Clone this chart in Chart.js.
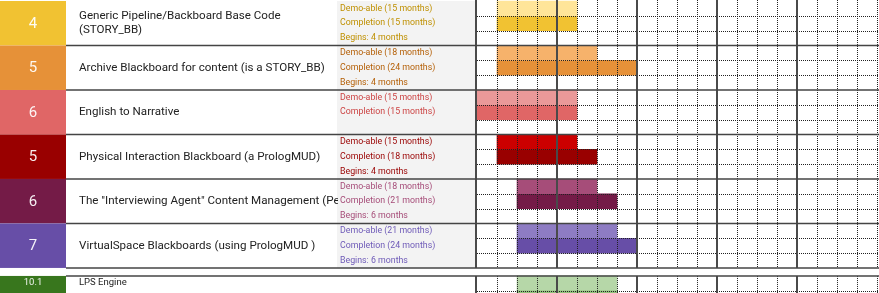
<!DOCTYPE html>
<html lang="en">
  <head>
    <meta charset="UTF-8" />
    <title>Blackboard Roadmap</title>
    <script src="https://cdn.jsdelivr.net/npm/chart.js"></script>
    <style>
      html,
      body {
        margin: 0;
        padding: 0;
        background: #fff;
      }
      .chart-container {
        position: relative;
        width: 879px;
        height: 293px;
      }
    </style>
  </head>
  <body>
    <div class="chart-container">
      <canvas id="ganttChart"></canvas>
    </div>

    <script>
      // data read from the sheet
      const groupNumbers = ["4", "5", "6", "5", "6", "7"];
      const groupTitles = [
        ["Generic Pipeline/Backboard Base Code", "(STORY_BB)"],
        ["Archive Blackboard for content (is a STORY_BB)"],
        ["English to Narrative"],
        ["Physical Interaction Blackboard (a PrologMUD)"],
        ['The "Interviewing Agent" Content Management (Pe'],
        ["VirtualSpace Blackboards (using PrologMUD )"],
      ];
      const demoMonths = [15, 18, 15, 15, 18, 21];
      const completionMonths = [15, 24, 15, 18, 21, 24];
      const beginMonths = [4, 4, null, 4, 6, 6];
      const barStartMonths = [3, 3, 0, 3, 6, 6];

      const subtaskIds = ["10.1", "10.2"];
      const subtaskNames = ["LPS Engine", "Sit Calc"];
      const subtaskStartMonths = [6, 6];
      const subtaskEndMonths = [21, 21];

      const columnMonths = [0, 3, 6, 9, 12, 15, 18, 21, 24, 27, 30, 33, 36, 39, 42, 45, 48, 51, 54, 57, 60];
      const yearMonths = [0, 12, 24, 36, 48];

      // colours
      const boxColors = ["#f1c232", "#e69138", "#e06666", "#990000", "#741b47", "#674ea7"];
      const demoColors = ["#ffe599", "#f6b26b", "#ea9999", "#cc0000", "#a64d79", "#8e7cc3"];
      const completionColors = ["#f1c232", "#e69138", "#e06666", "#990000", "#741b47", "#674ea7"];
      const labelColors = ["#bf9000", "#b45f06", "#cc4444", "#990000", "#a64d79", "#6f5bb8"];
      const subtaskBox = "#38761d";
      const subtaskColors = ["#b6d7a8", "#93c47d"];

      // layout of the sheet
      const BOX_W = 66;
      const TITLE_X = 79;
      const LABEL_X = 337;
      const LABEL_TEXT_X = 340;
      const GRID_X = 477;
      const ROWS = 3;
      const GAP_TOP = groupNumbers.length * ROWS;
      const GREEN_TOP = 18.54;

      const demoBars = groupNumbers.map((_, g) => ({
        x: [barStartMonths[g], demoMonths[g]],
        y: g * ROWS + 0.5,
      }));
      const completionBars = groupNumbers.map((_, g) => ({
        x: [barStartMonths[g], completionMonths[g]],
        y: g * ROWS + 1.5,
      }));
      const subtaskBars = subtaskIds.map((_, i) => ({
        x: [subtaskStartMonths[i], subtaskEndMonths[i]],
        y: GREEN_TOP + i + 0.5,
      }));

      const barStyle = {
        grouped: false,
        barPercentage: 1,
        categoryPercentage: 1,
        borderWidth: 0,
        borderSkipped: false,
      };

      const sheetTable = {
        id: "sheetTable",
        beforeDraw(chart) {
          const { ctx } = chart;
          const y = chart.scales.y;
          ctx.save();
          ctx.fillStyle = "#ffffff";
          ctx.fillRect(0, 0, chart.width, chart.height);

          groupNumbers.forEach((num, g) => {
            const top = y.getPixelForValue(g * ROWS);
            const bottom = y.getPixelForValue(g * ROWS + ROWS);
            const mid = (top + bottom) / 2;

            ctx.fillStyle = boxColors[g];
            ctx.fillRect(0, top, BOX_W, bottom - top);
            ctx.fillStyle = "#f3f3f3";
            ctx.fillRect(LABEL_X, top, GRID_X - 2 - LABEL_X, bottom - top);

            ctx.textBaseline = "middle";
            ctx.textAlign = "center";
            ctx.fillStyle = "rgba(255,255,255,0.93)";
            ctx.font = "15px Roboto";
            ctx.fillText(num, BOX_W / 2, mid + 1);

            ctx.save();
            ctx.beginPath();
            ctx.rect(BOX_W, top, LABEL_X + 1 - BOX_W, bottom - top);
            ctx.clip();
            ctx.textAlign = "left";
            ctx.fillStyle = "#222";
            ctx.font = "11.6px Roboto";
            const lines = groupTitles[g];
            lines.forEach((line, k) => {
              ctx.fillText(line, TITLE_X, mid + (k - (lines.length - 1) / 2) * 14);
            });
            ctx.restore();

            const subLabels = [
              `Demo-able (${demoMonths[g]} months)`,
              `Completion (${completionMonths[g]} months)`,
              beginMonths[g] !== null ? `Begins: ${beginMonths[g]} months` : "",
            ];
            ctx.textAlign = "left";
            ctx.fillStyle = labelColors[g];
            ctx.font = "8.8px Roboto";
            subLabels.forEach((txt, k) => {
              ctx.fillText(txt, LABEL_TEXT_X, y.getPixelForValue(g * ROWS + k + 0.5));
            });
          });

          // green sub-task block
          const gTop = y.getPixelForValue(GREEN_TOP);
          ctx.fillStyle = subtaskBox;
          ctx.fillRect(0, gTop, BOX_W, chart.height - gTop);
          subtaskIds.forEach((id, i) => {
            const cy = y.getPixelForValue(GREEN_TOP + i + 0.45);
            ctx.textAlign = "center";
            ctx.fillStyle = "rgba(255,255,255,0.93)";
            ctx.font = "9.5px Roboto";
            ctx.fillText(id, BOX_W / 2, cy);
            ctx.textAlign = "left";
            ctx.fillStyle = "#222";
            ctx.fillText(subtaskNames[i], TITLE_X, cy);
          });
          ctx.restore();
        },
        afterDatasetsDraw(chart) {
          const { ctx, chartArea } = chart;
          const x = chart.scales.x;
          const y = chart.scales.y;
          const gapTop = y.getPixelForValue(GAP_TOP);
          const gapBottom = y.getPixelForValue(GREEN_TOP);
          ctx.save();

          // dotted column lines
          ctx.setLineDash([1, 1]);
          ctx.lineWidth = 1;
          ctx.strokeStyle = "#222";
          columnMonths.forEach((m) => {
            if (yearMonths.includes(m)) return;
            const px = Math.round(x.getPixelForValue(m)) + 0.5;
            ctx.beginPath();
            ctx.moveTo(px, chartArea.top);
            ctx.lineTo(px, gapTop);
            ctx.moveTo(px, gapBottom);
            ctx.lineTo(px, chartArea.bottom);
            ctx.stroke();
          });

          // dotted sub-row lines
          const subRows = [];
          groupNumbers.forEach((_, g) => {
            subRows.push(g * ROWS + 1, g * ROWS + 2);
          });
          subtaskIds.forEach((_, i) => subRows.push(GREEN_TOP + i + 1));
          subRows.forEach((r) => {
            const py = Math.round(y.getPixelForValue(r)) + 0.5;
            ctx.beginPath();
            ctx.moveTo(chartArea.left, py);
            ctx.lineTo(chartArea.right, py);
            ctx.stroke();
          });

          // year lines
          ctx.setLineDash([]);
          ctx.lineWidth = 2;
          ctx.strokeStyle = "#4a4a4a";
          yearMonths.forEach((m) => {
            const px = Math.round(x.getPixelForValue(m)) - (m === 0 ? 1 : 0);
            ctx.beginPath();
            ctx.moveTo(px, chartArea.top);
            ctx.lineTo(px, gapTop);
            ctx.moveTo(px, gapBottom);
            ctx.lineTo(px, chartArea.bottom);
            ctx.stroke();
          });

          // group separators
          ctx.lineWidth = 1.5;
          ctx.strokeStyle = "#444";
          const seps = groupNumbers.map((_, g) => (g + 1) * ROWS);
          seps.push(GREEN_TOP);
          seps.forEach((r) => {
            const py = y.getPixelForValue(r);
            ctx.beginPath();
            ctx.moveTo(BOX_W, py);
            ctx.lineTo(chart.width, py);
            ctx.stroke();
          });
          ctx.restore();
        },
      };

      const ctxGantt = document.getElementById("ganttChart").getContext("2d");
      new Chart(ctxGantt, {
        type: "bar",
        data: {
          datasets: [
            {
              label: "Demo-able",
              data: demoBars,
              backgroundColor: demoColors,
              ...barStyle,
            },
            {
              label: "Completion",
              data: completionBars,
              backgroundColor: completionColors,
              ...barStyle,
            },
            {
              label: "Sub-tasks",
              data: subtaskBars,
              backgroundColor: subtaskColors,
              ...barStyle,
            },
          ],
        },
        options: {
          indexAxis: "y",
          responsive: true,
          maintainAspectRatio: false,
          animation: false,
          events: [],
          layout: { padding: { left: GRID_X, right: 0, top: 0, bottom: 0 } },
          scales: {
            x: { type: "linear", min: 0, max: 60.3, display: false, offset: false },
            y: {
              type: "linear",
              reverse: true,
              offset: false,
              min: -0.067,
              max: 19.69,
              display: false,
              grid: { offset: false },
              ticks: { stepSize: 1, includeBounds: false },
            },
          },
          plugins: {
            legend: { display: false },
            tooltip: { enabled: false },
          },
        },
        plugins: [sheetTable],
      });
    </script>
  </body>
</html>
